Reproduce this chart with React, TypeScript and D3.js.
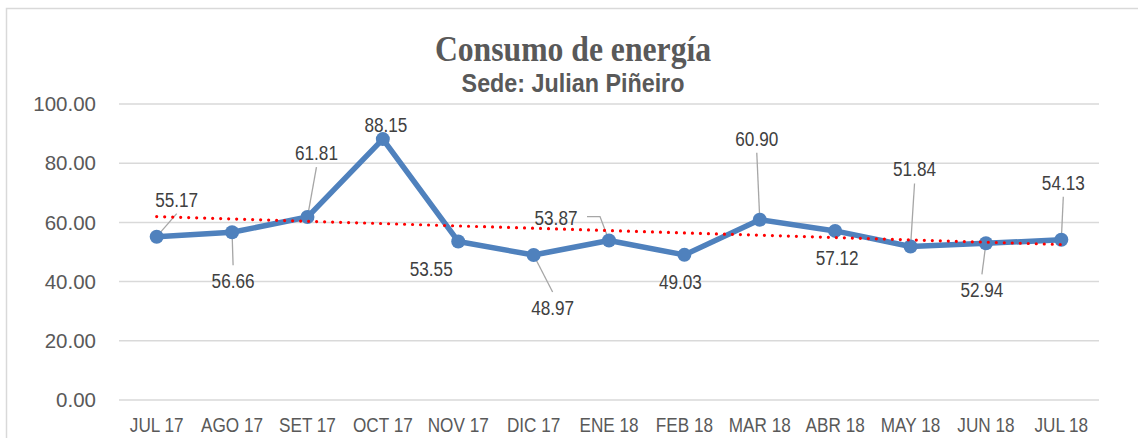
import React, { useEffect, useRef } from 'react';
import * as d3 from 'd3';

const categories = ['JUL 17', 'AGO 17', 'SET 17', 'OCT 17', 'NOV 17', 'DIC 17', 'ENE 18', 'FEB 18', 'MAR 18', 'ABR 18', 'MAY 18', 'JUN 18', 'JUL 18'];
const consumo = [55.17, 56.66, 61.81, 88.15, 53.55, 48.97, 53.87, 49.03, 60.90, 57.12, 51.84, 52.94, 54.13];
const yTicks = [0, 20, 40, 60, 80, 100];

// where each data label sits relative to its point (Excel moved some of them by hand)
const labelOffsets: [number, number][] = [
  [20, -37], [1, 49], [9, -64], [3, -14], [-27, 28], [19, 53], [-53, -22],
  [-4, 27], [-3, -81], [2, 27], [4, -77], [-4, 47], [2, -57],
];
const hasLeader = [true, true, true, false, false, true, true, false, true, false, true, true, true];

const App: React.FC = () => {
  const svgRef = useRef<SVGSVGElement>(null);

  useEffect(() => {
    if (!svgRef.current) return;
    const svg = d3.select(svgRef.current);
    svg.selectAll('*').remove();

    const width = 1138;
    const height = 438;
    const left = 119, right = 1099, top = 104, bottom = 400;
    const sans = "'Liberation Sans', Arial, sans-serif";

    svg.attr('width', width).attr('height', height);

    const x = d3.scaleBand<string>().domain(categories).range([left, right]);
    const y = d3.scaleLinear().domain([0, 100]).range([bottom, top]);
    const cx = (i: number) => (x(categories[i]) as number) + x.bandwidth() / 2;

    // text is drawn a bit narrower than the font (the picture is squeezed)
    const addText = (px: number, py: number, txt: string, size: number, fill: string, opts: any = {}) => {
      const sx = opts.sx ?? 0.88;
      return svg.append('g').attr('transform', `translate(${px},${py}) scale(${sx},1)`)
        .append('text')
        .attr('text-anchor', opts.anchor || 'middle')
        .attr('dy', opts.dy || '0.35em')
        .attr('font-family', opts.family || sans)
        .attr('font-size', size)
        .attr('font-weight', opts.weight || 'normal')
        .attr('fill', fill)
        .text(txt);
    };

    // chart frame
    svg.append('rect')
      .attr('x', 6.5).attr('y', 8.5)
      .attr('width', 1150).attr('height', 450)
      .attr('fill', '#fff')
      .attr('stroke', '#d9d9d9')
      .attr('stroke-width', 1.5);

    // gridlines + y labels
    yTicks.forEach(t => {
      svg.append('line')
        .attr('x1', left).attr('x2', right)
        .attr('y1', y(t)).attr('y2', y(t))
        .attr('stroke', '#d9d9d9').attr('stroke-width', 1.5);
      addText(96, y(t), d3.format('.2f')(t), 20.5, '#595959', { anchor: 'end', sx: 1 });
    });

    // x labels
    categories.forEach((c, i) => {
      addText(cx(i), 425, c, 19.5, '#595959');
    });

    // title
    addText(573, 48, 'Consumo de energía', 36, '#595959', { family: "'Liberation Serif', 'Times New Roman', serif", weight: 'bold' });
    addText(573, 83, 'Sede: Julian Piñeiro', 26.5, '#595959', { weight: 'bold' });

    // leader lines
    consumo.forEach((v, i) => {
      if (!hasLeader[i]) return;
      const [dx, dy] = labelOffsets[i];
      const px = cx(i), py = y(v);
      const lx = px + dx, ly = py + dy;
      let pts: [number, number][];
      if (dy < 0 && dx < -30) {
        // elbow leader on the side of the label
        pts = [[lx + 31, ly - 2], [lx + 44, ly - 2], [px, py]];
      } else {
        pts = [[lx, dy < 0 ? ly + 14 : ly - 16], [px, py]];
      }
      svg.append('path')
        .attr('d', d3.line()(pts))
        .attr('fill', 'none')
        .attr('stroke', '#a6a6a6')
        .attr('stroke-width', 1.3);
    });

    // series line
    const line = d3.line<number>()
      .x((_, i) => cx(i))
      .y(d => y(d));
    svg.append('path')
      .datum(consumo)
      .attr('d', line)
      .attr('fill', 'none')
      .attr('stroke', '#4f81bd')
      .attr('stroke-width', 5.5)
      .attr('stroke-linejoin', 'round');

    svg.selectAll('circle.pt')
      .data(consumo)
      .enter()
      .append('circle')
      .attr('class', 'pt')
      .attr('cx', (_, i) => cx(i))
      .attr('cy', d => y(d))
      .attr('r', 7)
      .attr('fill', '#4f81bd');

    // linear trend line (least squares)
    const n = consumo.length;
    const xm = d3.mean(consumo.map((_, i) => i)) as number;
    const ym = d3.mean(consumo) as number;
    const slope = d3.sum(consumo, (v, i) => (i - xm) * (v - ym)) / d3.sum(consumo, (_, i) => (i - xm) * (i - xm));
    const trend = (i: number) => ym + slope * (i - xm);
    svg.append('line')
      .attr('x1', cx(0)).attr('y1', y(trend(0)))
      .attr('x2', cx(n - 1)).attr('y2', y(trend(n - 1)))
      .attr('stroke', '#ff0000')
      .attr('stroke-width', 3.2)
      .attr('stroke-linecap', 'round')
      .attr('stroke-dasharray', '0 8');

    // data labels
    consumo.forEach((v, i) => {
      const [dx, dy] = labelOffsets[i];
      addText(cx(i) + dx, y(v) + dy, d3.format('.2f')(v), 19.5, '#404040');
    });
  }, []);

  return (
    <div style={{ position: 'absolute', left: 0, top: 0 }}>
      <svg ref={svgRef} style={{ display: 'block' }}></svg>
    </div>
  );
};

export default App;
